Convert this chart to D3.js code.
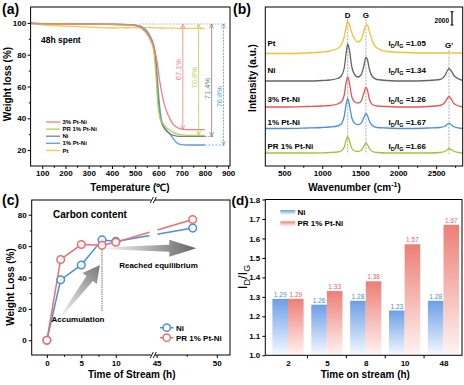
<!DOCTYPE html>
<html>
<head>
<meta charset="utf-8">
<script src="https://cdn.jsdelivr.net/npm/d3@7"></script>
<style>
  body { margin: 0; background: #fff; }
  svg { font-family: "Liberation Sans", Arial, sans-serif; }
</style>
</head>
<body>
<div id="chart"></div>
<script>
// ---------- data ----------
// (a) TGA of the 48h spent catalysts
var tgaTemp  = [50, 100, 200, 300, 400, 450, 500, 530, 555, 570, 580, 590, 597, 605, 612, 620, 635, 650, 665, 680, 700, 720, 760, 800];
var tga3PtNi = [99.8, 99.5, 99.3, 99.2, 99.2, 99, 98.5, 96.8, 93, 89, 85.5, 79, 73, 64, 58, 52, 44.5, 39.5, 36, 34.2, 33.2, 32.9, 32.9, 32.9];
var tgaPR    = [99.6, 99.4, 99.2, 99.1, 99, 98.8, 98.2, 96.2, 92, 87.5, 82, 66, 50, 41, 38, 36.5, 34, 32.3, 31, 30.2, 29.6, 29.3, 29.2, 29.2];
var tgaNi    = [99.7, 99.5, 99.3, 99.2, 99.1, 98.9, 98.4, 96.5, 92.5, 88.5, 84, 72, 56, 43, 38, 35, 32, 30.3, 29.2, 28.8, 28.6, 28.6, 28.6, 28.6];
var tga1PtNi = [99.8, 99.6, 99.4, 99.3, 99.2, 99.1, 98.8, 97.5, 94, 90, 86, 76, 62, 48, 40, 36, 32.5, 30, 27, 24.5, 23.4, 23.2, 23.2, 23.2];
var tgaPt    = [99.5, 98.8, 98, 97.3, 96.8, 96.9, 97, 97, 97, 97, 96.9, 96.9, 96.9, 96.8, 96.8, 96.8, 96.7, 96.7, 96.7, 96.6, 96.6, 96.5, 96.5, 96.5];
var tgaNames = ["3% Pt-Ni", "PR 1% Pt-Ni", "Ni", "1% Pt-Ni", "Pt"];
var tgaLoss  = ["67.1%", "70.8%", "71.4%", "76.8%"];
var tgaXTicks = [100, 200, 300, 400, 500, 600, 700, 800, 900];
var tgaYTicks = [20, 40, 60, 80, 100];

// (b) Raman spectra (stacked, a.u.)
var ramanWn = [250, 500, 800, 1000, 1100, 1200, 1250, 1290, 1315, 1335, 1355, 1390, 1430, 1470, 1510, 1545, 1575, 1595, 1620, 1660, 1720, 1850, 2100, 2400, 2550, 2620, 2650, 2670, 2695, 2740, 2850];
var ramanPt   = [112.5, 112.5, 113, 114, 115, 117.5, 121, 129, 139, 144.5, 142, 133, 126.5, 124, 126, 134, 140.5, 141, 135, 125, 118, 114.5, 113.5, 113, 113, 113, 113.2, 113.5, 113.2, 113, 113];
var ramanNi   = [85, 85, 85, 85.5, 86, 87.5, 90, 98, 113, 122, 117, 99, 91, 89, 91, 99, 108.5, 106.5, 97, 89.5, 86.5, 85.5, 85, 85.5, 86.5, 91, 95.5, 97.5, 95.5, 90, 85.5];
var raman3    = [59, 59, 59.5, 60, 60.5, 62, 64, 71, 84, 89, 84, 69, 64, 63, 64.5, 72, 78.5, 76, 67, 61.5, 60, 59.5, 59, 59.5, 60.5, 64, 68, 69.5, 67.5, 62, 59];
var raman1    = [37.5, 37.5, 38, 38.5, 39, 40, 42, 50, 62, 67.5, 62, 48, 42.5, 41.5, 42.5, 48, 52.5, 50.5, 45, 40.5, 38.5, 38, 37.5, 38, 38.5, 40, 42, 42.7, 41.5, 39, 37.5];
var ramanPR   = [13, 13, 13, 13.2, 13.5, 14, 15, 19, 26, 29.5, 26, 17.5, 15, 14.5, 15.5, 19, 23, 21.5, 17.5, 14.5, 13.5, 13, 13, 13, 13.5, 14.5, 16.5, 17.5, 16.5, 14.5, 13];
var ramanNames = ["Pt", "Ni", "3% Pt-Ni", "1% Pt-Ni", "PR 1% Pt-Ni"];
var ramanRatio = ["1.05", "1.34", "1.26", "1.67", "1.66"];
var ramanLabelLevel = [122.7, 96, 66.7, 44, 20.3];
var ramanBandNames = ["D", "G", "G'"];
var ramanBandWn = [1335, 1575, 2670];
var ramanXTicks = [500, 1000, 1500, 2000, 2500];

// (c) carbon content
var cTime = [0, 2, 5, 8, 10, 48];
var cNi   = [0, 38.5, 48, 64, 63, 71.5];
var cPR   = [0, 51.5, 61, 60.5, 62.5, 77];
var cXTicks = [0, 5, 10, 45, 50];
var cYTicks = [0, 20, 40, 60, 80];

// (d) ID/IG vs time on stream
var dTime = ["2", "5", "8", "10", "48"];
var dNi = [1.29, 1.26, 1.28, 1.23, 1.28];
var dPR = [1.29, 1.33, 1.38, 1.57, 1.67];
var dYTicks = [1.0, 1.1, 1.2, 1.3, 1.4, 1.5, 1.6, 1.7, 1.8];

// ---------- svg ----------
var svg = d3.select("#chart").append("svg")
  .attr("width", 464)
  .attr("height", 385);
var defs = svg.append("defs");

function frame(x0, y0, x1, y1) {
  return svg.append("rect")
    .attr("x", x0).attr("y", y0)
    .attr("width", x1 - x0).attr("height", y1 - y0)
    .attr("fill", "none").attr("stroke", "#000").attr("stroke-width", 1);
}

function styleAxis(g, size) {
  g.select(".domain").remove();
  g.selectAll(".tick line").attr("stroke", "#000");
  g.selectAll(".tick text")
    .attr("font-size", size || 8)
    .attr("font-weight", "bold")
    .attr("fill", "#000");
}

function minor(axis, vals, tx, ty) {
  svg.append("g")
    .attr("transform", `translate(${tx}, ${ty})`)
    .call(axis.tickValues(vals).tickSize(1.8).tickFormat(""))
    .call(styleAxis);
}

function text(x, y, str, size, weight, color, anchor) {
  return svg.append("text")
    .attr("x", x).attr("y", y)
    .attr("font-size", size)
    .attr("font-weight", weight || "normal")
    .attr("fill", color || "#000")
    .attr("text-anchor", anchor || "start")
    .text(str);
}

function vtext(x, y, str, size, weight, color) {
  return svg.append("text")
    .attr("transform", `translate(${x}, ${y}) rotate(-90)`)
    .attr("font-size", size)
    .attr("font-weight", weight || "normal")
    .attr("fill", color || "#000")
    .attr("text-anchor", "middle")
    .text(str);
}

// ================= (a) =================
var xA = d3.scaleLinear().domain([50, 908]).range([30.6, 230]);
var yA = d3.scaleLinear().domain([10, 110]).range([166, 7]);
var tgaColors = ["#f2807a", "#b8cf4a", "#7f7f7f", "#5a9ae6", "#f8c94a"];
var tgaData = [tga3PtNi, tgaPR, tgaNi, tga1PtNi, tgaPt];

var lineA = d3.line()
  .x((d, i) => xA(tgaTemp[i]))
  .y(d => yA(d))
  .curve(d3.curveMonotoneX);

// reference lines
svg.append("line")
  .attr("x1", xA(520)).attr("x2", xA(890))
  .attr("y1", yA(99.3)).attr("y2", yA(99.3))
  .attr("stroke", "#999").attr("stroke-width", 0.8).attr("stroke-dasharray", "1.5,1.5");
svg.append("line")
  .attr("x1", xA(800)).attr("x2", xA(836))
  .attr("y1", yA(tgaNi[tgaNi.length - 1])).attr("y2", yA(tgaNi[tgaNi.length - 1]))
  .attr("stroke", "#7f7f7f").attr("stroke-width", 0.8).attr("stroke-dasharray", "2,1.5");
svg.append("line")
  .attr("x1", xA(800)).attr("x2", xA(890))
  .attr("y1", yA(tga1PtNi[tga1PtNi.length - 1])).attr("y2", yA(tga1PtNi[tga1PtNi.length - 1]))
  .attr("stroke", "#5a9ae6").attr("stroke-width", 0.8).attr("stroke-dasharray", "2,1.5");

// curves (Pt drawn first, 3% last)
[4, 3, 2, 1, 0].forEach(function(k) {
  svg.append("path")
    .datum(tgaData[k])
    .attr("d", lineA)
    .attr("fill", "none")
    .attr("stroke", tgaColors[k])
    .attr("stroke-width", 1.3);
});

// double arrows with loss labels
var arrowT = [705, 773, 829, 880];
tgaLoss.forEach(function(lbl, k) {
  var c = tgaColors[k];
  var id = "arr" + k;
  defs.append("marker")
    .attr("id", id)
    .attr("viewBox", "0 0 10 10")
    .attr("refX", 9).attr("refY", 5)
    .attr("markerUnits", "userSpaceOnUse")
    .attr("markerWidth", 5).attr("markerHeight", 5)
    .attr("orient", "auto-start-reverse")
    .append("path")
    .attr("d", "M0,1L10,5L0,9")
    .attr("fill", "none").attr("stroke", c).attr("stroke-width", 1.4);
  var fin = tgaData[k][tgaData[k].length - 1];
  svg.append("line")
    .attr("x1", xA(arrowT[k])).attr("x2", xA(arrowT[k]))
    .attr("y1", yA(99.3)).attr("y2", yA(fin))
    .attr("stroke", c).attr("stroke-width", 0.8)
    .attr("stroke-dasharray", k === 3 ? "2,1.2" : null)
    .attr("marker-start", `url(#${id})`)
    .attr("marker-end", `url(#${id})`);
  var mid = [70.6, 65.5, 58.7, 53.6][k];
  vtext(xA(arrowT[k]) - 1.8, yA(mid), lbl, 7.5, "normal", c);
});

frame(30.6, 7, 230, 166);
svg.append("g").attr("transform", "translate(0,166)")
  .call(d3.axisBottom(xA).tickValues(tgaXTicks).tickSize(3).tickPadding(1.5)).call(styleAxis);
svg.append("g").attr("transform", "translate(30.6,0)")
  .call(d3.axisLeft(yA).tickValues(tgaYTicks).tickSize(3).tickPadding(1.5)).call(styleAxis);
minor(d3.axisBottom(xA), [150, 250, 350, 450, 550, 650, 750, 850], 0, 166);
minor(d3.axisLeft(yA), [30, 50, 70, 90], 30.6, 0);

text(41, 43, "48h spent", 8.5, "bold");

// legend (a)
tgaNames.forEach(function(n, k) {
  var y = 122 + k * 7.1;
  svg.append("line")
    .attr("x1", 46).attr("x2", 60).attr("y1", y).attr("y2", y)
    .attr("stroke", tgaColors[k]).attr("stroke-width", 1.3);
  text(62.5, y + 2.1, n, 6, "bold");
});

text(130, 191, "Temperature (\u2103)", 10, "bold", "#000", "middle");
vtext(10.5, 84, "Weight loss (%)", 10, "bold");
text(2, 14, "(a)", 14, "bold");

// ================= (b) =================
var xB = d3.scaleLinear().domain([250, 2850]).range([265.3, 462.7]);
var yB = d3.scaleLinear().domain([0, 159]).range([166, 7]);
var ramanColors = ["#f5c033", "#666666", "#e85555", "#4c8fe0", "#a5c23a"];
var ramanData = [ramanPt, ramanNi, raman3, raman1, ramanPR];

// band guide lines
ramanBandWn.forEach(function(w, i) {
  svg.append("line")
    .attr("x1", xB(w)).attr("x2", xB(w))
    .attr("y1", i === 2 ? 50 : 19).attr("y2", 154)
    .attr("stroke", "#b5b5b5").attr("stroke-width", 1.1).attr("stroke-dasharray", "2,1.2");
  text(xB(w), i === 2 ? 47.5 : 18, ramanBandNames[i], 8, "bold", "#000", "middle");
});

var lineB = d3.line()
  .x((d, i) => xB(ramanWn[i]))
  .y(d => yB(d))
  .curve(d3.curveMonotoneX);

ramanData.forEach(function(s, k) {
  svg.append("path")
    .datum(s)
    .attr("d", lineB)
    .attr("fill", "none")
    .attr("stroke", ramanColors[k])
    .attr("stroke-width", 1.3);
  var ly = yB(ramanLabelLevel[k]) + 3;
  text(267.5, ly, ramanNames[k], 8, "bold");
  var t = svg.append("text").attr("x", 388.5).attr("y", ly)
    .attr("font-size", 8).attr("font-weight", "bold");
  t.append("tspan").text("I");
  t.append("tspan").attr("font-size", 5.5).attr("dy", 2).text("D");
  t.append("tspan").attr("dy", -2).text("/I");
  t.append("tspan").attr("font-size", 5.5).attr("dy", 2).text("G");
  t.append("tspan").attr("dy", -2).text(" =" + ramanRatio[k]);
});

// 2000 counts scale bar (13.3 a.u.)
var sbTop = yB(154.3), sbBot = yB(154.3 - 13.3);
svg.append("line").attr("x1", 452).attr("x2", 452).attr("y1", sbTop).attr("y2", sbBot)
  .attr("stroke", "#000").attr("stroke-width", 1.2);
svg.append("line").attr("x1", 450.5).attr("x2", 453.5).attr("y1", sbTop).attr("y2", sbTop).attr("stroke", "#000");
svg.append("line").attr("x1", 450.5).attr("x2", 453.5).attr("y1", sbBot).attr("y2", sbBot).attr("stroke", "#000");
text(449, 23, "2000", 6.5, "bold", "#000", "end");

frame(265.3, 7, 462.7, 166);
svg.append("g").attr("transform", "translate(0,166)")
  .call(d3.axisBottom(xB).tickValues(ramanXTicks).tickFormat(d3.format("d")).tickSize(3).tickPadding(1.5)).call(styleAxis);
minor(d3.axisBottom(xB), [750, 1250, 1750, 2250, 2750], 0, 166);

var wt = svg.append("text").attr("x", 354.5).attr("y", 191)
  .attr("font-size", 10).attr("font-weight", "bold").attr("text-anchor", "middle");
wt.append("tspan").text("Wavenumber (cm");
wt.append("tspan").attr("font-size", 7).attr("dy", -4).text("-1");
wt.append("tspan").attr("dy", 4).text(")");
vtext(256, 78, "Intensity (a.u.)", 10, "bold");
text(233, 14, "(b)", 14, "bold");

// ================= (c) =================
var xC = d3.scaleLinear().domain([-2.2, 15.4, 44.7, 51.1]).range([31.7, 153, 153, 230]);
var yC = d3.scaleLinear().domain([-9.4, 89.4]).range([355, 200]);
var cColors = ["#4a8ee0", "#ee6e6e"];

// gray guide at 8 h
svg.append("line")
  .attr("x1", xC(8)).attr("x2", xC(8))
  .attr("y1", yC(65)).attr("y2", yC(18))
  .attr("stroke", "#b8b8b8").attr("stroke-width", 2).attr("stroke-dasharray", "1.5,0.8");

// gradient arrows
function taperArrow(x0, y0, x1, y1, wTail, wNeck, headLen, headW) {
  var dx = x1 - x0, dy = y1 - y0, L = Math.hypot(dx, dy);
  var ux = dx / L, uy = dy / L, nx = -uy, ny = ux;
  var bx = x1 - ux * headLen, by = y1 - uy * headLen;
  var pts = [
    [x0 + nx * wTail / 2, y0 + ny * wTail / 2],
    [bx + nx * wNeck / 2, by + ny * wNeck / 2],
    [bx + nx * headW / 2, by + ny * headW / 2],
    [x1, y1],
    [bx - nx * headW / 2, by - ny * headW / 2],
    [bx - nx * wNeck / 2, by - ny * wNeck / 2],
    [x0 - nx * wTail / 2, y0 - ny * wTail / 2]
  ];
  return "M" + pts.map(p => p.join(",")).join("L") + "Z";
}
function arrowGrad(id, x0, y0, x1, y1, c0, c1) {
  var g = defs.append("linearGradient").attr("id", id)
    .attr("gradientUnits", "userSpaceOnUse")
    .attr("x1", x0).attr("y1", y0).attr("x2", x1).attr("y2", y1);
  g.append("stop").attr("offset", 0).attr("stop-color", c0);
  g.append("stop").attr("offset", 1).attr("stop-color", c1);
}
var a1 = [xC(2.2), yC(16), xC(7.7), yC(48)];
arrowGrad("ga1", a1[0], a1[1], a1[2], a1[3], "#f2f2f2", "#7a7a7a");
svg.append("path").attr("d", taperArrow(a1[0], a1[1], a1[2], a1[3], 2, 8, 17, 18)).attr("fill", "url(#ga1)");
var a2 = [xC(7.8), yC(58.7), xC(48.3), yC(58.7)];
arrowGrad("ga2", a2[0], a2[1], a2[2], a2[3], "#ffffff", "#646464");
svg.append("path").attr("d", taperArrow(a2[0], a2[1], a2[2], a2[3], 1.5, 7, 27, 17)).attr("fill", "url(#ga2)");

// lines with a gap at the axis break
var clipC = defs.append("clipPath").attr("id", "clipC");
clipC.append("rect").attr("x", 31.7).attr("y", 200).attr("width", 149.5 - 31.7).attr("height", 155);
clipC.append("rect").attr("x", 157.5).attr("y", 200).attr("width", 230 - 157.5).attr("height", 155);

var lineC = d3.line().x((d, i) => xC(cTime[i])).y(d => yC(d));
[cNi, cPR].forEach(function(s, k) {
  svg.append("path")
    .datum(s)
    .attr("d", lineC)
    .attr("clip-path", "url(#clipC)")
    .attr("fill", "none")
    .attr("stroke", cColors[k])
    .attr("stroke-width", 1.5);
});
[cNi, cPR].forEach(function(s, k) {
  svg.append("g").selectAll("circle")
    .data(s)
    .enter()
    .append("circle")
    .attr("cx", (d, i) => xC(cTime[i]))
    .attr("cy", d => yC(d))
    .attr("r", 3.8)
    .attr("fill", "#fff")
    .attr("fill-opacity", 0.85)
    .attr("stroke", cColors[k])
    .attr("stroke-width", 1.5);
});

frame(31.7, 200, 230, 355);
svg.append("g").attr("transform", "translate(0,355)")
  .call(d3.axisBottom(xC).tickValues(cXTicks).tickSize(3).tickPadding(2)).call(styleAxis);
svg.append("g").attr("transform", "translate(31.7,0)")
  .call(d3.axisLeft(yC).tickValues(cYTicks).tickSize(3).tickPadding(2)).call(styleAxis);
minor(d3.axisBottom(xC), [2.5, 7.5, 47.5], 0, 355);
minor(d3.axisLeft(yC), [10, 30, 50, 70], 31.7, 0);

// axis break marks
[200, 355].forEach(function(y) {
  svg.append("rect").attr("x", 151).attr("y", y - 1.5).attr("width", 4).attr("height", 3).attr("fill", "#fff");
  [150.3, 153.3].forEach(function(x) {
    svg.append("line").attr("x1", x).attr("y1", y + 3).attr("x2", x + 3).attr("y2", y - 3)
      .attr("stroke", "#000").attr("stroke-width", 0.9);
  });
});

text(53, 217.5, "Carbon content", 10, "bold");
text(78, 321.5, "Accumulation", 8, "bold", "#000", "middle");
text(158.5, 267.5, "Reached equilibrium", 8, "bold", "#000", "middle");

// legend (c)
["Ni", "PR 1% Pt-Ni"].forEach(function(n, k) {
  var y = 327.7 + k * 10;
  svg.append("line").attr("x1", 160).attr("x2", 173.5).attr("y1", y).attr("y2", y)
    .attr("stroke", cColors[k]).attr("stroke-width", 1.5);
  svg.append("circle").attr("cx", 166.7).attr("cy", y).attr("r", 3.6)
    .attr("fill", "#fff").attr("stroke", cColors[k]).attr("stroke-width", 1.5);
  text(176, y + 3, n, 8, "bold");
});

text(131.7, 377.5, "Time of Stream (h)", 10, "bold", "#000", "middle");
vtext(14, 287, "Weight Loss (%)", 10, "bold");
text(2, 205, "(c)", 14, "bold");

// ================= (d) =================
var xD = d3.scalePoint().domain(dTime).range([288, 443.5]);
var yD = d3.scaleLinear().domain([1.0, 1.8]).range([355.3, 199.5]);
var barW = 15.6;
var dColors = ["#4a8ee0", "#ef5f5f"];

function barGrad(id, top, bottom) {
  var g = defs.append("linearGradient").attr("id", id)
    .attr("x1", 0).attr("y1", 0).attr("x2", 0).attr("y2", 1);
  g.append("stop").attr("offset", 0).attr("stop-color", top);
  g.append("stop").attr("offset", 1).attr("stop-color", bottom);
}
barGrad("gBlue", "#6c9fe6", "#f5f9ff");
barGrad("gRed", "#ec7f76", "#fff4f2");

svg.append("g").selectAll("rect")
  .data(dNi)
  .enter()
  .append("rect")
  .attr("x", (d, i) => xD(dTime[i]) - barW)
  .attr("y", d => yD(d))
  .attr("width", barW)
  .attr("height", d => yD(1.0) - yD(d))
  .attr("fill", "url(#gBlue)");
svg.append("g").selectAll("rect")
  .data(dPR)
  .enter()
  .append("rect")
  .attr("x", (d, i) => xD(dTime[i]))
  .attr("y", d => yD(d))
  .attr("width", barW)
  .attr("height", d => yD(1.0) - yD(d))
  .attr("fill", "url(#gRed)");

// value labels
dNi.forEach(function(v, i) {
  text(xD(dTime[i]) - barW / 2, yD(v) - 2, v.toFixed(2), 6.5, "normal", dColors[0], "middle");
});
dPR.forEach(function(v, i) {
  text(xD(dTime[i]) + barW / 2, yD(v) - 2, v.toFixed(2), 6.5, "normal", dColors[1], "middle");
});

frame(265.3, 199.5, 462, 355.3);
svg.append("g").attr("transform", "translate(0,355.3)")
  .call(d3.axisBottom(xD).tickSize(0).tickPadding(5)).call(styleAxis);
// ticks between categories
var dStep = xD.step();
svg.append("g").selectAll("line")
  .data(dTime.slice(1))
  .enter()
  .append("line")
  .attr("x1", d => xD(d) - dStep / 2).attr("x2", d => xD(d) - dStep / 2)
  .attr("y1", 355.3).attr("y2", 358.3)
  .attr("stroke", "#000");
svg.append("g").attr("transform", "translate(265.3,0)")
  .call(d3.axisLeft(yD).tickValues(dYTicks).tickFormat(d3.format(".1f")).tickSize(3).tickPadding(2)).call(styleAxis);

// legend (d)
[["Ni", "url(#gBlue)"], ["PR 1% Pt-Ni", "url(#gRed)"]].forEach(function(it, k) {
  var y = 210 + k * 11.3;
  svg.append("rect").attr("x", 280.3).attr("y", y).attr("width", 15).attr("height", 4.8).attr("fill", it[1]);
  text(297.5, y + 4.8, it[0], 8, "bold");
});

text(365.3, 377.5, "Time on stream (h)", 10, "bold", "#000", "middle");
var yt = svg.append("text")
  .attr("transform", "translate(246.5, 277) rotate(-90)")
  .attr("font-size", 13).attr("text-anchor", "middle");
yt.append("tspan").text("I");
yt.append("tspan").attr("font-size", 9).attr("dy", 3).text("D");
yt.append("tspan").attr("dy", -3).text("/I");
yt.append("tspan").attr("font-size", 9).attr("dy", 3).text("G");
text(231.5, 205, "(d)", 13.5, "bold");
</script>
</body>
</html>
